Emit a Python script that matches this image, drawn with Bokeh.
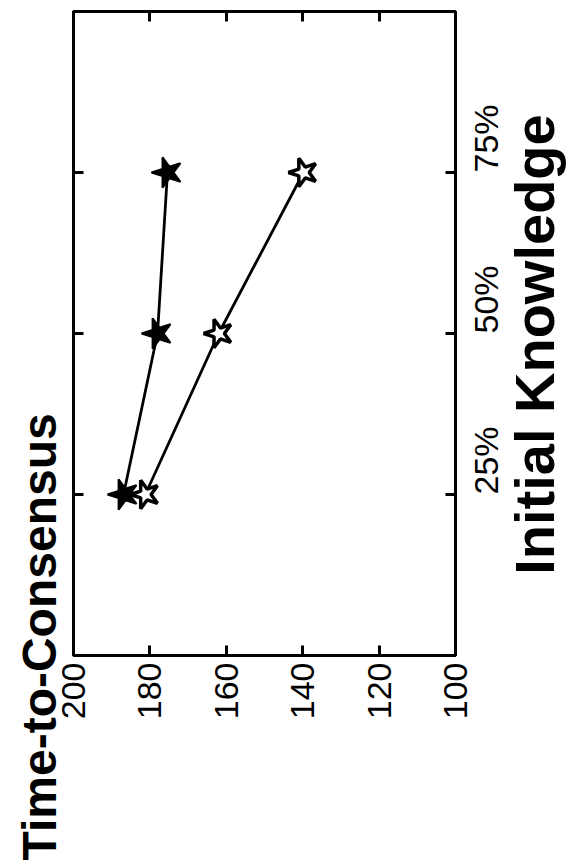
import math
from bokeh.plotting import figure
from bokeh.models import Range1d, LinearAxis, FixedTicker, Title
from bokeh.embed import file_html
from bokeh.resources import INLINE

# ---- data ----
knowledge = [25, 50, 75]
knowledge_labels = ["25%", "50%", "75%"]
time_ticks = [200, 180, 160, 140, 120, 100]
filled_series = [186.9, 178.0, 175.4]
open_series = [181.2, 162.0, 139.8]

FONT = "Liberation Sans"
FRAME_W, FRAME_H = 382, 644

p = figure(frame_width=FRAME_W, frame_height=FRAME_H, output_backend="svg", toolbar_location=None,
           x_range=Range1d(200, 100), y_range=Range1d(0, 100),
           x_axis_location="below", y_axis_location="right",
           min_border_left=73, min_border_right=118, min_border_top=11, min_border_bottom=211)
p.grid.visible = False
p.outline_line_color = "black"
p.outline_line_width = 3
p.background_fill_color = "white"
p.border_fill_color = "white"


def style_axis(ax, ticks):
    ax.ticker = FixedTicker(ticks=ticks)
    ax.major_tick_in = 10
    ax.major_tick_out = 0
    ax.minor_tick_line_color = None
    ax.axis_line_width = 3
    ax.axis_line_color = "black"
    ax.major_tick_line_width = 3
    ax.major_tick_line_color = "black"


def blank_labels(ax, ticks):
    ax.major_label_overrides = {t: "" for t in ticks}


# bottom axis (Time-to-Consensus values)
xb = p.xaxis[0]
style_axis(xb, time_ticks)
xb.major_label_orientation = math.pi / 2
xb.major_label_text_font = FONT
xb.major_label_text_font_size = "34px"
xb.major_label_text_color = "black"
xb.major_label_standoff = 7

# top axis (ticks only)
xa = LinearAxis()
style_axis(xa, time_ticks)
blank_labels(xa, time_ticks)
xa.major_label_standoff = 0
p.add_layout(xa, "above")

# right axis (Initial Knowledge ticks)
yr = p.yaxis[0]
style_axis(yr, knowledge)
yr.major_label_overrides = dict(zip(knowledge, knowledge_labels))
yr.major_label_orientation = math.pi / 2
yr.major_label_text_font = FONT
yr.major_label_text_font_size = "34px"
yr.major_label_text_color = "black"
yr.major_label_standoff = 30

# right-hand axis title, drawn as the single label of an outer axis so it reads bottom-to-top
LABEL_PX = 56
px_per_unit = FRAME_H / (p.y_range.end - p.y_range.start)
label_len_units = 8.224 * LABEL_PX / px_per_unit      # approx. advance width of the bold text
label_start = round((p.y_range.start + p.y_range.end) / 2 - label_len_units / 2 - 11 / px_per_unit, 3)
ka = LinearAxis(ticker=FixedTicker(ticks=[label_start]))
ka.major_label_overrides = {label_start: "Initial Knowledge"}
ka.axis_line_color = None
ka.major_tick_line_color = None
ka.minor_tick_line_color = None
ka.major_tick_in = 0
ka.major_tick_out = 0
ka.major_label_orientation = math.pi / 2
ka.major_label_text_font = FONT
ka.major_label_text_font_size = f"{LABEL_PX}px"
ka.major_label_text_font_style = "bold"
ka.major_label_text_color = "black"
ka.major_label_standoff = 8
p.add_layout(ka, "right")

# left axis (ticks only)
yl = LinearAxis()
style_axis(yl, knowledge)
blank_labels(yl, knowledge)
yl.major_label_standoff = 0
p.add_layout(yl, "left")

# title on the left, reading bottom-to-top
t = Title(text="Time-to-Consensus", align="left", offset=-205,
          text_font=FONT, text_font_size="48px", text_font_style="bold",
          text_color="black", standoff=16)
p.add_layout(t, "left")

# series
p.line(x=filled_series, y=knowledge, line_color="black", line_width=2.8)
p.line(x=open_series, y=knowledge, line_color="black", line_width=2.8)
p.scatter(x=filled_series, y=knowledge, marker="star", size=32, angle=math.pi / 2,
          fill_color="black", line_color="black", line_width=2)
p.scatter(x=open_series, y=knowledge, marker="star", size=30, angle=math.pi / 2,
          fill_color="white", line_color="black", line_width=3.5)

open("out.html", "w").write(file_html(p, INLINE))
